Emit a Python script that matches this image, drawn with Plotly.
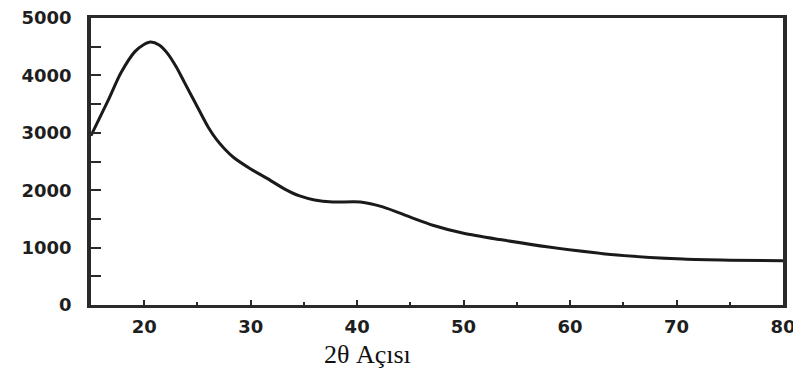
import plotly.graph_objects as go

# Data (2θ angle vs intensity)
two_theta = [15, 16.6, 17.8, 19.1, 19.9, 20.6, 21.4, 22.2, 23.0, 23.8, 24.8, 26.0, 26.8, 27.6, 28.4,
             30, 31.5, 33.2, 34.6, 36, 37.7, 40.3, 42.4, 45, 47.1, 50, 53.4, 58, 64.4, 70.6, 75, 80]
intensity = [2950, 3560, 4040, 4410, 4530, 4580, 4530, 4380, 4150, 3870, 3520, 3100, 2880, 2710, 2570,
             2370, 2210, 2020, 1900, 1830, 1795, 1795, 1710, 1530, 1390, 1250, 1140, 1010, 870, 800, 780, 770]

x_ticks = [20, 30, 40, 50, 60, 70, 80]
y_ticks = [0, 1000, 2000, 3000, 4000, 5000]
x_title = "2θ Açısı"

fig = go.Figure()
fig.add_trace(go.Scatter(
    x=two_theta, y=intensity, mode="lines",
    line=dict(color="#1a1a1a", width=3, shape="spline", smoothing=0.7),
    showlegend=False, hoverinfo="skip",
))

tick_font = dict(family="DejaVu Sans", size=18, color="#1e1e1e", weight="bold")

fig.update_xaxes(
    range=[15, 80], tickvals=x_ticks, ticktext=[str(v) for v in x_ticks],
    showline=True, linewidth=3, linecolor="#2a2a2a", mirror=True,
    ticks="inside", ticklen=5, tickwidth=2, tickcolor="#2a2a2a",
    minor=dict(dtick=5, tick0=0, ticks="inside", ticklen=3, tickwidth=2, tickcolor="#2a2a2a"),
    showgrid=False, zeroline=False, tickfont=tick_font, ticklabelstandoff=3,
    automargin=False, ticklabeloverflow="allow",
)
fig.update_yaxes(
    range=[0, 5000], tickvals=y_ticks, ticktext=[str(v) for v in y_ticks],
    showline=True, linewidth=3.5, linecolor="#2a2a2a", mirror=True,
    ticks="inside", ticklen=10, tickwidth=2, tickcolor="#2a2a2a",
    minor=dict(dtick=500, tick0=0, ticks="inside", ticklen=10, tickwidth=2, tickcolor="#2a2a2a"),
    showgrid=False, zeroline=False, tickfont=tick_font, ticklabelstandoff=12,
    automargin=False, ticklabeloverflow="allow",
)

fig.add_annotation(
    text=x_title, xref="paper", yref="paper", x=0.399, y=-0.174,
    xanchor="center", yanchor="middle", showarrow=False,
    font=dict(family="Liberation Serif", size=26, color="#111111"),
)

# page body has an 8px margin, so the figure is sized/offset to compensate
fig.update_layout(
    width=793, height=362,
    margin=dict(l=83, r=18, t=10, b=65),
    paper_bgcolor="white", plot_bgcolor="white",
)

fig.write_html("out.html")
